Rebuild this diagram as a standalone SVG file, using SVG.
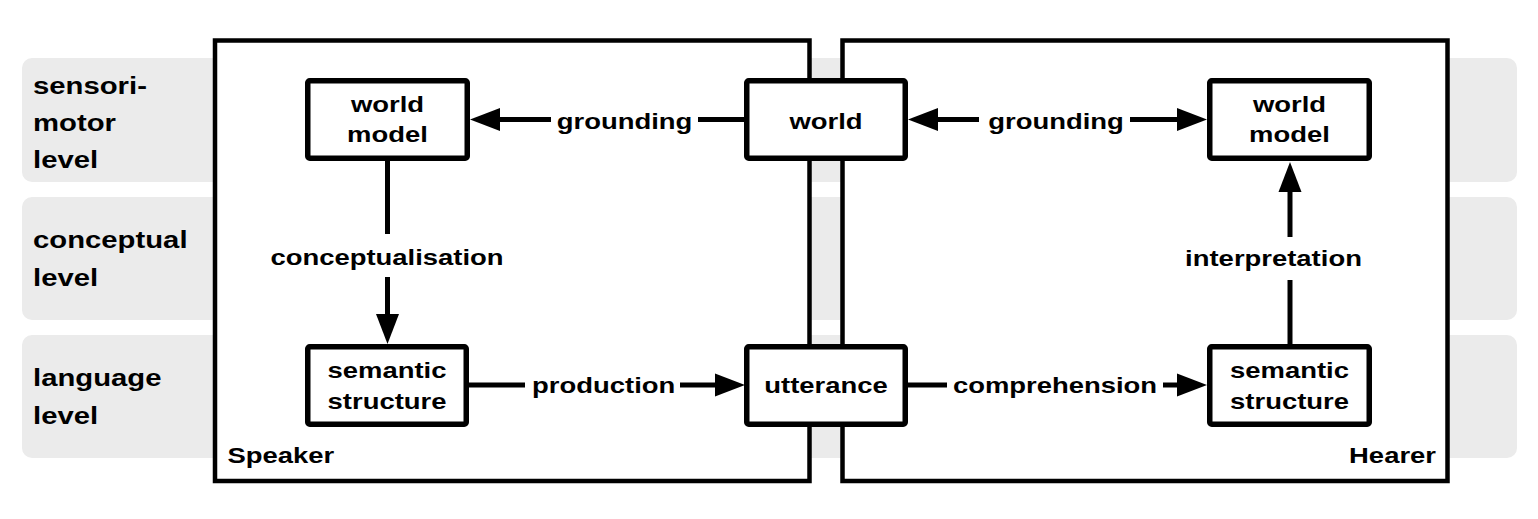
<svg xmlns="http://www.w3.org/2000/svg" width="1538" height="519" viewBox="0 0 1538 519">
<style>
.band{fill:#ebebeb;stroke:none}
.frame{fill:#fff;stroke:#000;stroke-width:4.5}
.box{fill:#fff;stroke:#000;stroke-width:5.5;stroke-linejoin:round}
.t{font-family:"Liberation Sans",Arial,Helvetica,sans-serif;font-weight:bold;font-size:22.5px;fill:#000}
.lv{font-size:24px}
.m{text-anchor:middle}
.e{text-anchor:end}
.c{fill:none;stroke:#000;stroke-width:5}
</style>
<defs>
<marker id="ah" markerUnits="userSpaceOnUse" markerWidth="32" markerHeight="24" refX="0" refY="11.5" orient="auto" overflow="visible">
<path d="M0,0 L30,11.5 L0,23 Z" fill="#000"/>
</marker>
</defs>
<rect width="1538" height="519" fill="#fff"/>
<g id="levels">
<rect class="band" x="22" y="58" width="1495" height="124" rx="10"/>
<rect class="band" x="22" y="197" width="1495" height="123" rx="10"/>
<rect class="band" x="22" y="335" width="1495" height="123" rx="10"/>
<text class="t lv" transform="translate(33,94) scale(1.22,1)"><tspan x="0" y="0">sensori-</tspan><tspan x="0" y="37">motor</tspan><tspan x="0" y="74">level</tspan></text>
<text class="t lv" transform="translate(33,248) scale(1.22,1)"><tspan x="0" y="0">conceptual</tspan><tspan x="0" y="38">level</tspan></text>
<text class="t lv" transform="translate(33,386) scale(1.22,1)"><tspan x="0" y="0">language</tspan><tspan x="0" y="38">level</tspan></text>
</g>
<g id="speaker">
<rect class="frame" x="215" y="40.5" width="594.5" height="440.5"/>
<text class="t" transform="translate(227.5,463) scale(1.22,1)">Speaker</text>
</g>
<g id="hearer">
<rect class="frame" x="842.5" y="40.5" width="605" height="440.5"/>
<text class="t e" transform="translate(1436,463) scale(1.22,1)">Hearer</text>
</g>
<g id="connectors">
<line class="c" x1="746" y1="119.5" x2="698" y2="119.5"/>
<line class="c" x1="551" y1="119.5" x2="500" y2="119.5" marker-end="url(#ah)"/>
<text class="t m" transform="translate(624.5,129) scale(1.22,1)">grounding</text>
<line class="c" x1="979" y1="119.5" x2="938" y2="119.5" marker-end="url(#ah)"/>
<line class="c" x1="1130" y1="119.5" x2="1177" y2="119.5" marker-end="url(#ah)"/>
<text class="t m" transform="translate(1056,129) scale(1.22,1)">grounding</text>
<line class="c" x1="387.5" y1="158" x2="387.5" y2="234"/>
<line class="c" x1="387.5" y1="277" x2="387.5" y2="314" marker-end="url(#ah)"/>
<text class="t m" transform="translate(387,265) scale(1.22,1)">conceptualisation</text>
<line class="c" x1="1290" y1="347" x2="1290" y2="280"/>
<line class="c" x1="1290" y1="237" x2="1290" y2="192" marker-end="url(#ah)"/>
<text class="t m" transform="translate(1273.5,266) scale(1.22,1)">interpretation</text>
<line class="c" x1="467" y1="385" x2="525" y2="385"/>
<line class="c" x1="680" y1="385" x2="715" y2="385" marker-end="url(#ah)"/>
<text class="t m" transform="translate(603.7,392.5) scale(1.22,1)">production</text>
<line class="c" x1="905" y1="385" x2="947" y2="385"/>
<line class="c" x1="1163" y1="385" x2="1177" y2="385" marker-end="url(#ah)"/>
<text class="t m" transform="translate(1055,392.5) scale(1.22,1)">comprehension</text>
</g>
<g id="speaker-world-model">
<rect class="box" x="307.75" y="80.75" width="159.5" height="77.5" rx="2"/>
<text class="t m" transform="translate(387.5,112) scale(1.22,1)"><tspan x="0" y="0">world</tspan><tspan x="0" y="30.5">model</tspan></text>
</g>
<g id="world">
<rect class="box" x="746.75" y="80.75" width="158.5" height="77.5" rx="2"/>
<text class="t m" transform="translate(826,129) scale(1.22,1)">world</text>
</g>
<g id="hearer-world-model">
<rect class="box" x="1209.75" y="80.75" width="159.5" height="77.5" rx="2"/>
<text class="t m" transform="translate(1289.5,112) scale(1.22,1)"><tspan x="0" y="0">world</tspan><tspan x="0" y="30.5">model</tspan></text>
</g>
<g id="speaker-semantic-structure">
<rect class="box" x="307.75" y="346.75" width="158.5" height="77.5" rx="2"/>
<text class="t m" transform="translate(387,377.5) scale(1.22,1)"><tspan x="0" y="0">semantic</tspan><tspan x="0" y="31.5">structure</tspan></text>
</g>
<g id="utterance">
<rect class="box" x="746.75" y="346.75" width="158.5" height="77.5" rx="2"/>
<text class="t m" transform="translate(826,392.5) scale(1.22,1)">utterance</text>
</g>
<g id="hearer-semantic-structure">
<rect class="box" x="1209.75" y="346.75" width="159.5" height="77.5" rx="2"/>
<text class="t m" transform="translate(1289.5,377.5) scale(1.22,1)"><tspan x="0" y="0">semantic</tspan><tspan x="0" y="31.5">structure</tspan></text>
</g>
</svg>
